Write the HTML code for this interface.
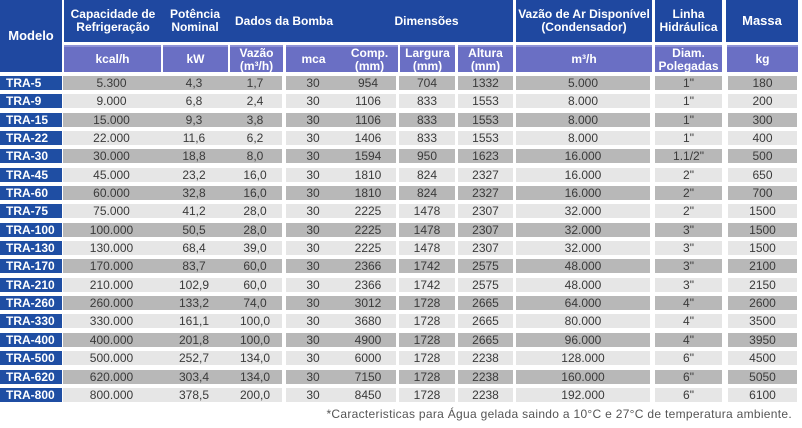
<!DOCTYPE html>
<html><head><meta charset="utf-8"><style>
*{margin:0;padding:0;box-sizing:border-box}
body{width:802px;height:428px;background:#fff;position:relative;overflow:hidden;font-family:"Liberation Sans",sans-serif}
.c{position:absolute;display:flex;align-items:center;justify-content:center;text-align:center;line-height:1.05}
.h1{background:#1f48a0;color:#fff;font-weight:bold;font-size:12px;top:0;height:42px}
.h2{background:#6a6fc4;color:#fff;font-weight:bold;font-size:12px;top:45px;height:27px;border-top:2px solid #8e92d6}
.r{position:absolute;left:0;width:802px;height:14px}
.r div{position:absolute;top:0;height:14px;display:flex;align-items:center;justify-content:center;font-size:12px;color:#3a3a3a}
.g div{background:#b8b8b8}
.l div{background:#e6e6e6}
.r div:nth-child(1){left:0;width:62px;background:#1f4ea3;color:#fff;font-weight:bold;justify-content:flex-start;padding-left:6px}
.r div:nth-child(2){left:63px;width:97px}
.r div:nth-child(3){left:160px;width:68px}
.r div:nth-child(4){left:228px;width:54px}
.r div:nth-child(5){left:286px;width:54px}
.r div:nth-child(6){left:340px;width:56px}
.r div:nth-child(7){left:399px;width:56px}
.r div:nth-child(8){left:458px;width:55px}
.r div:nth-child(9){left:516px;width:134px}
.r div:nth-child(10){left:655px;width:67px}
.r div:nth-child(11){left:728px;width:69px}
.foot{position:absolute;top:407px;right:10px;font-size:12px;color:#555;letter-spacing:0.3px}
</style></head><body>
<div class="c h1" style="left:0;width:62px;height:72px;font-size:13px">Modelo</div>
<div class="c h1" style="left:64px;width:98px">Capacidade de<br>Refrigeração</div>
<div class="c h1" style="left:162px;width:66px">Potência<br>Nominal</div>
<div class="c h1" style="left:228px;width:112px">Dados da Bomba</div>
<div class="c h1" style="left:340px;width:173px">Dimensões</div>
<div class="c h1" style="left:516px;width:136px">Vazão de Ar Disponível<br>(Condensador)</div>
<div class="c h1" style="left:655px;width:67px">Linha<br>Hidráulica</div>
<div class="c h1" style="left:726px;width:72px;font-size:13px">Massa</div>

<div class="c h2" style="left:64px;width:97px">kcal/h</div>
<div class="c h2" style="left:163px;width:65px">kW</div>
<div class="c h2" style="left:230px;width:53px">Vazão<br>(m³/h)</div>
<div class="c h2" style="left:286px;width:55px">mca</div>
<div class="c h2" style="left:341px;width:57px">Comp.<br>(mm)</div>
<div class="c h2" style="left:400px;width:55px">Largura<br>(mm)</div>
<div class="c h2" style="left:458px;width:55px">Altura<br>(mm)</div>
<div class="c h2" style="left:516px;width:136px">m³/h</div>
<div class="c h2" style="left:655px;width:67px">Diam.<br>Polegadas</div>
<div class="c h2" style="left:727px;width:71px">kg</div>

<div class="r g" style="top:76px"><div>TRA-5</div><div>5.300</div><div>4,3</div><div>1,7</div><div>30</div><div>954</div><div>704</div><div>1332</div><div>5.000</div><div>1"</div><div>180</div></div>
<div class="r l" style="top:94px"><div>TRA-9</div><div>9.000</div><div>6,8</div><div>2,4</div><div>30</div><div>1106</div><div>833</div><div>1553</div><div>8.000</div><div>1"</div><div>200</div></div>
<div class="r g" style="top:113px"><div>TRA-15</div><div>15.000</div><div>9,3</div><div>3,8</div><div>30</div><div>1106</div><div>833</div><div>1553</div><div>8.000</div><div>1"</div><div>300</div></div>
<div class="r l" style="top:131px"><div>TRA-22</div><div>22.000</div><div>11,6</div><div>6,2</div><div>30</div><div>1406</div><div>833</div><div>1553</div><div>8.000</div><div>1"</div><div>400</div></div>
<div class="r g" style="top:149px"><div>TRA-30</div><div>30.000</div><div>18,8</div><div>8,0</div><div>30</div><div>1594</div><div>950</div><div>1623</div><div>16.000</div><div>1.1/2"</div><div>500</div></div>
<div class="r l" style="top:168px"><div>TRA-45</div><div>45.000</div><div>23,2</div><div>16,0</div><div>30</div><div>1810</div><div>824</div><div>2327</div><div>16.000</div><div>2"</div><div>650</div></div>
<div class="r g" style="top:186px"><div>TRA-60</div><div>60.000</div><div>32,8</div><div>16,0</div><div>30</div><div>1810</div><div>824</div><div>2327</div><div>16.000</div><div>2"</div><div>700</div></div>
<div class="r l" style="top:204px"><div>TRA-75</div><div>75.000</div><div>41,2</div><div>28,0</div><div>30</div><div>2225</div><div>1478</div><div>2307</div><div>32.000</div><div>2"</div><div>1500</div></div>
<div class="r g" style="top:223px"><div>TRA-100</div><div>100.000</div><div>50,5</div><div>28,0</div><div>30</div><div>2225</div><div>1478</div><div>2307</div><div>32.000</div><div>3"</div><div>1500</div></div>
<div class="r l" style="top:241px"><div>TRA-130</div><div>130.000</div><div>68,4</div><div>39,0</div><div>30</div><div>2225</div><div>1478</div><div>2307</div><div>32.000</div><div>3"</div><div>1500</div></div>
<div class="r g" style="top:259px"><div>TRA-170</div><div>170.000</div><div>83,7</div><div>60,0</div><div>30</div><div>2366</div><div>1742</div><div>2575</div><div>48.000</div><div>3"</div><div>2100</div></div>
<div class="r l" style="top:278px"><div>TRA-210</div><div>210.000</div><div>102,9</div><div>60,0</div><div>30</div><div>2366</div><div>1742</div><div>2575</div><div>48.000</div><div>3"</div><div>2150</div></div>
<div class="r g" style="top:296px"><div>TRA-260</div><div>260.000</div><div>133,2</div><div>74,0</div><div>30</div><div>3012</div><div>1728</div><div>2665</div><div>64.000</div><div>4"</div><div>2600</div></div>
<div class="r l" style="top:314px"><div>TRA-330</div><div>330.000</div><div>161,1</div><div>100,0</div><div>30</div><div>3680</div><div>1728</div><div>2665</div><div>80.000</div><div>4"</div><div>3500</div></div>
<div class="r g" style="top:333px"><div>TRA-400</div><div>400.000</div><div>201,8</div><div>100,0</div><div>30</div><div>4900</div><div>1728</div><div>2665</div><div>96.000</div><div>4"</div><div>3950</div></div>
<div class="r l" style="top:351px"><div>TRA-500</div><div>500.000</div><div>252,7</div><div>134,0</div><div>30</div><div>6000</div><div>1728</div><div>2238</div><div>128.000</div><div>6"</div><div>4500</div></div>
<div class="r g" style="top:370px"><div>TRA-620</div><div>620.000</div><div>303,4</div><div>134,0</div><div>30</div><div>7150</div><div>1728</div><div>2238</div><div>160.000</div><div>6"</div><div>5050</div></div>
<div class="r l" style="top:388px"><div>TRA-800</div><div>800.000</div><div>378,5</div><div>200,0</div><div>30</div><div>8450</div><div>1728</div><div>2238</div><div>192.000</div><div>6"</div><div>6100</div></div>

<div class="foot">*Caracteristicas para Água gelada saindo a 10°C e 27°C de temperatura ambiente.</div>
</body></html>
